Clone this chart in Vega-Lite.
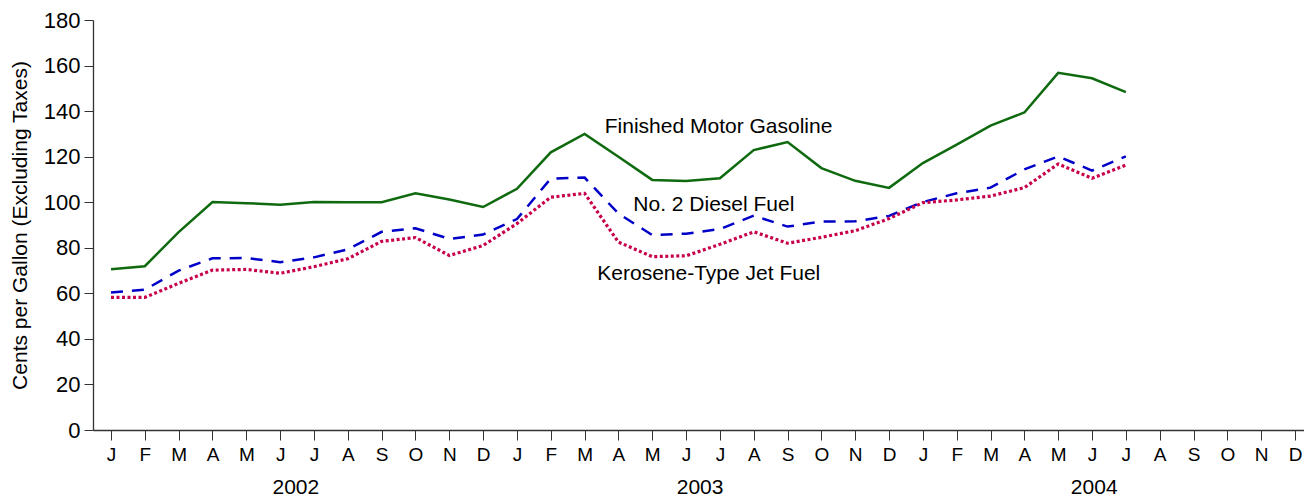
{
  "$schema": "https://vega.github.io/schema/vega-lite/v6.json",
  "width": 1211,
  "height": 410,
  "autosize": {"type": "none"},
  "padding": {"left": 93, "top": 20, "right": 0, "bottom": 66},
  "background": "white",
  "config": {
    "view": {"stroke": null},
    "font": "Liberation Sans",
    "axis": {"grid": false, "labelColor": "#000", "titleColor": "#000", "domainColor": "#333", "tickColor": "#333", "labelFont": "Liberation Sans", "titleFont": "Liberation Sans"}
  },
  "datasets": {
    "prices": [
      {"m": 0, "series": "Gasoline", "v": 70.6}, {"m": 1, "series": "Gasoline", "v": 71.9}, {"m": 2, "series": "Gasoline", "v": 86.9}, {"m": 3, "series": "Gasoline", "v": 100.1}, {"m": 4, "series": "Gasoline", "v": 99.6}, {"m": 5, "series": "Gasoline", "v": 98.9}, {"m": 6, "series": "Gasoline", "v": 100.1}, {"m": 7, "series": "Gasoline", "v": 100.0}, {"m": 8, "series": "Gasoline", "v": 100.0}, {"m": 9, "series": "Gasoline", "v": 103.9}, {"m": 10, "series": "Gasoline", "v": 101.2}, {"m": 11, "series": "Gasoline", "v": 97.9}, {"m": 12, "series": "Gasoline", "v": 105.9}, {"m": 13, "series": "Gasoline", "v": 121.9}, {"m": 14, "series": "Gasoline", "v": 130.0}, {"m": 15, "series": "Gasoline", "v": 120.0}, {"m": 16, "series": "Gasoline", "v": 109.8}, {"m": 17, "series": "Gasoline", "v": 109.3}, {"m": 18, "series": "Gasoline", "v": 110.5}, {"m": 19, "series": "Gasoline", "v": 122.9}, {"m": 20, "series": "Gasoline", "v": 126.4}, {"m": 21, "series": "Gasoline", "v": 115.0}, {"m": 22, "series": "Gasoline", "v": 109.4}, {"m": 23, "series": "Gasoline", "v": 106.3}, {"m": 24, "series": "Gasoline", "v": 117.2}, {"m": 25, "series": "Gasoline", "v": 125.3}, {"m": 26, "series": "Gasoline", "v": 133.6}, {"m": 27, "series": "Gasoline", "v": 139.4}, {"m": 28, "series": "Gasoline", "v": 156.8}, {"m": 29, "series": "Gasoline", "v": 154.4}, {"m": 30, "series": "Gasoline", "v": 148.3},
      {"m": 0, "series": "Diesel", "v": 60.4}, {"m": 1, "series": "Diesel", "v": 61.6}, {"m": 2, "series": "Diesel", "v": 70.0}, {"m": 3, "series": "Diesel", "v": 75.4}, {"m": 4, "series": "Diesel", "v": 75.5}, {"m": 5, "series": "Diesel", "v": 73.7}, {"m": 6, "series": "Diesel", "v": 75.8}, {"m": 7, "series": "Diesel", "v": 79.3}, {"m": 8, "series": "Diesel", "v": 87.0}, {"m": 9, "series": "Diesel", "v": 88.6}, {"m": 10, "series": "Diesel", "v": 83.9}, {"m": 11, "series": "Diesel", "v": 85.8}, {"m": 12, "series": "Diesel", "v": 92.6}, {"m": 13, "series": "Diesel", "v": 110.4}, {"m": 14, "series": "Diesel", "v": 110.8}, {"m": 15, "series": "Diesel", "v": 95.0}, {"m": 16, "series": "Diesel", "v": 85.6}, {"m": 17, "series": "Diesel", "v": 86.2}, {"m": 18, "series": "Diesel", "v": 88.2}, {"m": 19, "series": "Diesel", "v": 94.1}, {"m": 20, "series": "Diesel", "v": 89.3}, {"m": 21, "series": "Diesel", "v": 91.5}, {"m": 22, "series": "Diesel", "v": 91.6}, {"m": 23, "series": "Diesel", "v": 94.0}, {"m": 24, "series": "Diesel", "v": 100.1}, {"m": 25, "series": "Diesel", "v": 103.9}, {"m": 26, "series": "Diesel", "v": 106.4}, {"m": 27, "series": "Diesel", "v": 114.4}, {"m": 28, "series": "Diesel", "v": 120.1}, {"m": 29, "series": "Diesel", "v": 113.9}, {"m": 30, "series": "Diesel", "v": 120.1},
      {"m": 0, "series": "Jet", "v": 58.2}, {"m": 1, "series": "Jet", "v": 58.2}, {"m": 2, "series": "Jet", "v": 64.4}, {"m": 3, "series": "Jet", "v": 70.2}, {"m": 4, "series": "Jet", "v": 70.5}, {"m": 5, "series": "Jet", "v": 68.8}, {"m": 6, "series": "Jet", "v": 71.7}, {"m": 7, "series": "Jet", "v": 75.2}, {"m": 8, "series": "Jet", "v": 82.8}, {"m": 9, "series": "Jet", "v": 84.5}, {"m": 10, "series": "Jet", "v": 76.6}, {"m": 11, "series": "Jet", "v": 81.0}, {"m": 12, "series": "Jet", "v": 90.6}, {"m": 13, "series": "Jet", "v": 102.2}, {"m": 14, "series": "Jet", "v": 103.9}, {"m": 15, "series": "Jet", "v": 82.5}, {"m": 16, "series": "Jet", "v": 76.1}, {"m": 17, "series": "Jet", "v": 76.5}, {"m": 18, "series": "Jet", "v": 81.5}, {"m": 19, "series": "Jet", "v": 87.0}, {"m": 20, "series": "Jet", "v": 82.0}, {"m": 21, "series": "Jet", "v": 84.6}, {"m": 22, "series": "Jet", "v": 87.5}, {"m": 23, "series": "Jet", "v": 92.8}, {"m": 24, "series": "Jet", "v": 99.8}, {"m": 25, "series": "Jet", "v": 101.0}, {"m": 26, "series": "Jet", "v": 102.7}, {"m": 27, "series": "Jet", "v": 106.4}, {"m": 28, "series": "Jet", "v": 116.8}, {"m": 29, "series": "Jet", "v": 110.5}, {"m": 30, "series": "Jet", "v": 116.3}
    ],
    "years": [
      {"pos": 5.45, "year": "2002"},
      {"pos": 17.4, "year": "2003"},
      {"pos": 29.05, "year": "2004"}
    ],
    "labels": [
      {"m": 17.96, "v": 133.2, "text": "Finished Motor Gasoline"},
      {"m": 17.82, "v": 99.0, "text": "No. 2 Diesel Fuel"},
      {"m": 17.67, "v": 68.6, "text": "Kerosene-Type Jet Fuel"}
    ]
  },
  "layer": [
    {
      "data": {"name": "prices"},
      "transform": [{"filter": "datum.series === 'Gasoline'"}],
      "mark": {"type": "line", "color": "#0f6a0f", "strokeWidth": 2.5},
      "encoding": {
        "x": {
          "field": "m", "type": "quantitative",
          "scale": {"domain": [-0.532, 35.266], "nice": false, "zero": false},
          "axis": {
            "orient": "bottom",
            "values": [0,1,2,3,4,5,6,7,8,9,10,11,12,13,14,15,16,17,18,19,20,21,22,23,24,25,26,27,28,29,30,31,32,33,34,35],
            "labelExpr": "['J','F','M','A','M','J','J','A','S','O','N','D'][datum.value % 12]",
            "title": null, "tickSize": 10, "labelPadding": 5, "labelFontSize": 19,
            "labelFlush": false, "labelOverlap": false, "domainWidth": 1.3
          }
        },
        "y": {
          "field": "v", "type": "quantitative",
          "scale": {"domain": [0, 180], "nice": false},
          "axis": {
            "values": [0, 20, 40, 60, 80, 100, 120, 140, 160, 180],
            "title": "Cents per Gallon (Excluding Taxes)",
            "tickSize": 9, "labelPadding": 4, "labelFontSize": 22,
            "titleFontSize": 21, "titleFontWeight": "normal", "titlePadding": 13,
            "domainWidth": 1.3
          }
        }
      }
    },
    {
      "data": {"name": "prices"},
      "transform": [{"filter": "datum.series === 'Diesel'"}],
      "mark": {"type": "line", "color": "#0000c8", "strokeWidth": 2.5, "strokeDash": [12, 9]},
      "encoding": {
        "x": {"field": "m", "type": "quantitative", "scale": {"domain": [-0.532, 35.266], "nice": false, "zero": false}, "axis": null},
        "y": {"field": "v", "type": "quantitative", "scale": {"domain": [0, 180], "nice": false}}
      }
    },
    {
      "data": {"name": "prices"},
      "transform": [{"filter": "datum.series === 'Jet'"}],
      "mark": {"type": "line", "color": "#c8004b", "strokeWidth": 3.2, "strokeDash": [3, 2.5]},
      "encoding": {
        "x": {"field": "m", "type": "quantitative", "scale": {"domain": [-0.532, 35.266], "nice": false, "zero": false}, "axis": null},
        "y": {"field": "v", "type": "quantitative", "scale": {"domain": [0, 180], "nice": false}}
      }
    },
    {
      "data": {"name": "labels"},
      "mark": {"type": "text", "fontSize": 21, "color": "#000", "align": "center", "baseline": "middle", "font": "Liberation Sans"},
      "encoding": {
        "x": {"field": "m", "type": "quantitative", "scale": {"domain": [-0.532, 35.266], "nice": false, "zero": false}, "axis": null},
        "y": {"field": "v", "type": "quantitative", "scale": {"domain": [0, 180], "nice": false}},
        "text": {"field": "text"}
      }
    },
    {
      "data": {"name": "years"},
      "mark": {"type": "point", "opacity": 0},
      "encoding": {
        "x": {
          "field": "pos", "type": "quantitative",
          "scale": {"domain": [-0.532, 35.266], "nice": false, "zero": false},
          "axis": {
            "orient": "bottom",
            "values": [5.45, 17.4, 29.05],
            "labelExpr": "datum.value < 12 ? '2002' : (datum.value < 24 ? '2003' : '2004')",
            "title": null, "domain": false, "ticks": false, "tickSize": 0,
            "labelPadding": 46, "labelFontSize": 21, "labelFlush": false, "labelOverlap": false
          }
        }
      }
    }
  ],
  "resolve": {"axis": {"x": "independent"}}
}
